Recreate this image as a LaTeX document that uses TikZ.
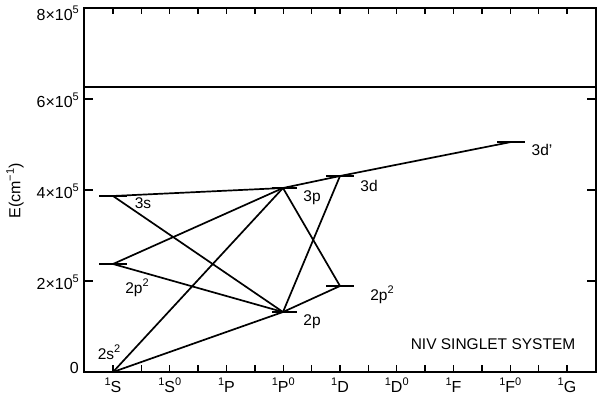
\documentclass[tikz,border=0pt]{standalone}
\usepackage{fontspec}
\setmainfont{Liberation Sans}
\newcommand{\hi}[1]{\raisebox{0.42em}{\fontsize{11}{11}\selectfont #1}}
\begin{document}
\begin{tikzpicture}[x=1pt,y=-1pt,
  frame/.style={line width=1.8pt},
  tickmark/.style={line width=1.4pt},
  trans/.style={line width=1.7pt},
  levelbar/.style={line width=1.7pt},
  lab/.style={font=\fontsize{15.5}{17}\selectfont, inner sep=0pt},
  axlab/.style={font=\fontsize{16}{18}\selectfont, inner sep=0pt}]
\useasboundingbox (0,0) rectangle (600,396);
% frame
\draw[frame] (84,8) rectangle (596,372);
% y ticks (left and right)
\foreach \yy in {8,99,190,281}{
  \draw[tickmark] (84,\yy) -- (93,\yy);
  \draw[tickmark] (596,\yy) -- (587,\yy);
}
% x ticks (bottom and top)
\foreach \i in {1,...,17}{
  \pgfmathsetmacro{\xx}{84.6+28.375*\i}
  \draw[tickmark] (\xx,372) -- (\xx,365);
  \draw[tickmark] (\xx,8) -- (\xx,14);
}
% y tick labels
\node[axlab,anchor=east] (y8) at (79,13) {8×10\hi{5}};
\node[axlab,anchor=east] (y6) at (79,100) {6×10\hi{5}};
\node[axlab,anchor=east] (y4) at (79,191) {4×10\hi{5}};
\node[axlab,anchor=east] (y2) at (79,282) {2×10\hi{5}};
\node[axlab,anchor=east] (y0) at (79,368) {0};
\node[axlab,rotate=90] (ylab) at (15,191) {E(cm\hi{−1})};
% x labels
\node[axlab] (xS)  at (113,385) {\hi{1}S};
\node[axlab] (xSo) at (169.75,385) {\hi{1}S\hi{0}};
\node[axlab] (xP)  at (226.5,385) {\hi{1}P};
\node[axlab] (xPo) at (283.25,385) {\hi{1}P\hi{0}};
\node[axlab] (xD)  at (340,385) {\hi{1}D};
\node[axlab] (xDo) at (396.75,385) {\hi{1}D\hi{0}};
\node[axlab] (xF)  at (453.5,385) {\hi{1}F};
\node[axlab] (xFo) at (510.25,385) {\hi{1}F\hi{0}};
\node[axlab] (xG)  at (567,385) {\hi{1}G};
% ionization limit
\coordinate (ionL) at (84,87);
\coordinate (ionR) at (596,87);
\draw[frame] (ionL) -- (ionR);
% levels
\coordinate (gs)  at (113,372);
\coordinate (s3)  at (113,196);
\coordinate (pps) at (113,264);
\coordinate (p2)  at (283,312);
\coordinate (p3)  at (283,188);
\coordinate (ppd) at (340,286);
\coordinate (d3)  at (340,176);
\coordinate (d3p) at (511,142);
\foreach \c in {gs,s3,pps,ppd,d3,d3p}{
  \draw[levelbar] ([xshift=-14pt]\c) -- ([xshift=14pt]\c);
}
\foreach \c in {p2,p3}{
  \draw[levelbar] ([xshift=-11pt]\c) -- ([xshift=14pt]\c);
}
% transitions
\draw[trans] (gs) -- (p2);
\draw[trans] (gs) -- (p3);
\draw[trans] (s3) -- (p2);
\draw[trans] (s3) -- (p3);
\draw[trans] (pps) -- (p2);
\draw[trans] (pps) -- (p3);
\draw[trans] (p2) -- (d3);
\draw[trans] (p2) -- (ppd);
\draw[trans] (p3) -- (ppd);
\draw[trans] (p3) -- (d3);
\draw[trans] (d3) -- (d3p);
% level labels
\node[lab] (l3s)  at (143,203) {3s};
\node[lab] (l2pps) at (137,288) {2p\hi{2}};
\node[lab] (l2s)  at (109,352) {2s\hi{2}};
\node[lab] (l2p)  at (312,322) {2p};
\node[lab] (l3p)  at (312,198) {3p};
\node[lab] (l3d)  at (369,186) {3d};
\node[lab] (l2ppd) at (382,295) {2p\hi{2}};
\node[lab] (l3dp) at (542,150) {3d'};
\node[lab] (title) at (493,344) {NIV SINGLET SYSTEM};
\end{tikzpicture}
\end{document}
